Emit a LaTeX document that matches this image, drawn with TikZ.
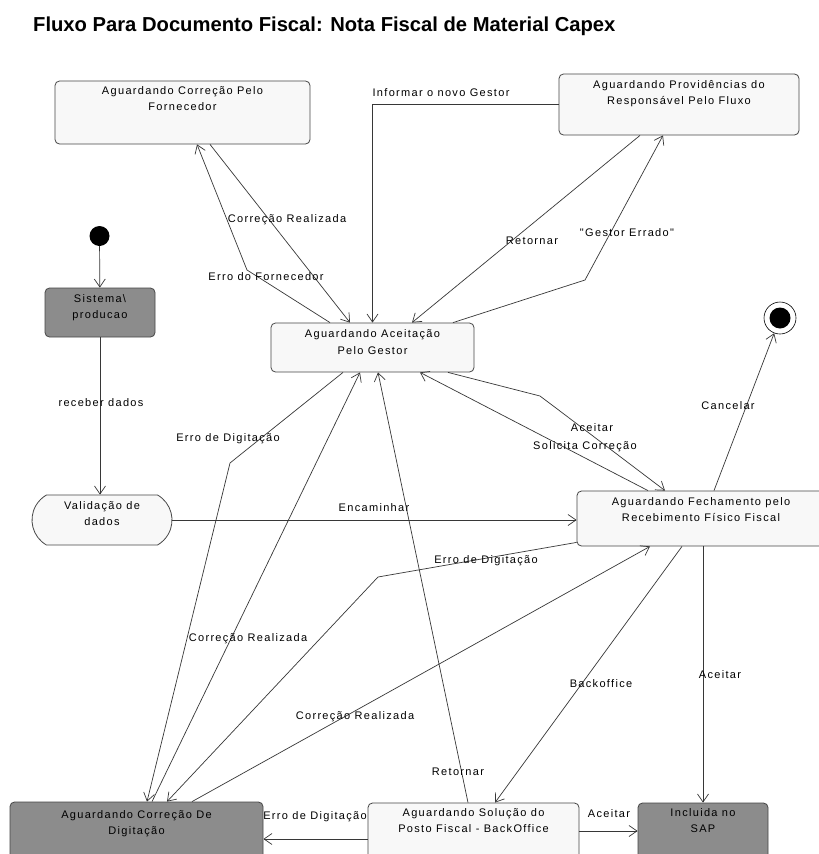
\documentclass[tikz,border=0pt]{standalone}
\usepackage{fontspec}
\setmainfont{Liberation Sans}
\newfontfamily\lblfont[LetterSpace=12]{Liberation Sans}
\usetikzlibrary{shapes.misc,arrows.meta,calc}

\definecolor{edgecol}{RGB}{55,55,55}
\definecolor{boxline}{RGB}{70,70,70}
\definecolor{boxfill}{RGB}{248,248,248}
\definecolor{darkfill}{RGB}{140,140,140}

\begin{document}
\begin{tikzpicture}[x=1pt,y=-1pt,
  every node/.style={font=\lblfont\fontsize{11pt}{16.5pt}\selectfont, inner sep=0pt},
  statebox/.style={rectangle, rounded corners=4.5pt, draw=boxline, fill=boxfill, line width=0.8pt},
  darkbox/.style={statebox, fill=darkfill},
  boxtext/.style={anchor=base, align=center},
  lbl/.style={anchor=center},
  flow/.style={draw=edgecol, line width=0.7pt,
    -{Straight Barb[length=8pt,width=11pt,line width=0.7pt]}}
]
\fill[white] (0,0) rectangle (819,854);
\useasboundingbox (0,0) rectangle (819,854);

% title
\node[anchor=base west, font=\fontsize{20.2pt}{24pt}\selectfont\bfseries] (title) at (33,31)
  {Fluxo Para Documento Fiscal: Nota Fiscal de Material Capex};

% states (the text anchor is the baseline of the second line)
\node[statebox, minimum width=255pt, minimum height=63pt] (forn) at (182.5,112.5) {};
\node[boxtext] (fornT) at ([yshift=-30pt]forn.north) {Aguardando Correção Pelo\\Fornecedor};

\node[statebox, minimum width=240pt, minimum height=61pt] (resp) at (679,104.5) {};
\node[boxtext] (respT) at ([yshift=-31pt]resp.north) {Aguardando Providências do\\Responsável Pelo Fluxo};

\node[circle, fill=black, minimum size=20pt] (init) at (99.5,236) {};

\node[darkbox, minimum width=110pt, minimum height=49pt] (sis) at (100,312.5) {};
\node[boxtext] (sisT) at ([yshift=-31pt]sis.north) {Sistema\textbackslash\\producao};

\node[rounded rectangle, rounded rectangle arc length=120, draw=boxline, fill=boxfill,
  line width=0.8pt, minimum width=140pt, minimum height=50pt] (val) at (102,520) {};
\node[boxtext] (valT) at ([yshift=-31pt]val.north) {Validação de\\dados};

\node[statebox, minimum width=203pt, minimum height=49pt] (gestor) at (372.5,347.5) {};
\node[boxtext] (gestorT) at ([yshift=-31.5pt]gestor.north) {Aguardando Aceitação\\Pelo Gestor};

\node[circle, draw=black, line width=0.6pt, minimum size=32pt] (final) at (780,318) {};
\node[circle, fill=black, minimum size=21pt] (finalIn) at (final) {};

\node[statebox, minimum width=248pt, minimum height=55pt] (fech) at (701,518.5) {};
\node[boxtext] (fechT) at ([yshift=-31pt]fech.north) {Aguardando Fechamento pelo\\Recebimento Físico Fiscal};

\node[darkbox, minimum width=253pt, minimum height=58pt] (digit) at (136.5,831) {};
\node[boxtext] (digitT) at ([yshift=-33pt]digit.north) {Aguardando Correção De\\Digitação};

\node[statebox, minimum width=211pt, minimum height=56pt] (sol) at (473.5,831) {};
\node[boxtext] (solT) at ([yshift=-30pt]sol.north) {Aguardando Solução do\\Posto Fiscal - BackOffice};

\node[darkbox, minimum width=130pt, minimum height=56pt] (sap) at (703,831) {};
\node[boxtext] (sapT) at ([yshift=-30pt]sap.north) {Incluida no\\SAP};

% bend points
\coordinate (bFor) at (247,270);
\coordinate (bGE) at (585,280);
\coordinate (bAc1) at (540,396);
\coordinate (bAc2) at (552,405);
\coordinate (bED1) at (230,463);
\coordinate (bED2) at (378,577);
\coordinate (bCR) at (389,692);

% transitions
\draw[flow] (init) -- (sis);
\draw[flow] (sis.south) -- (sis.south |- val.north);
\draw[flow] (val.east) -- (val.east -| fech.west);
\draw[flow] ([xshift=27.5pt]forn.south) -- ([xshift=-22.5pt]gestor.north);
\draw[flow] ([xshift=-42.5pt]gestor.north) -- (bFor) -- ([xshift=14.5pt]forn.south);
\draw[flow] (resp.west) -| (gestor.north);
\draw[flow] ([xshift=-39pt]resp.south) -- ([xshift=39.5pt]gestor.north);
\draw[flow] ([xshift=80.5pt]gestor.north) -- (bGE) -- ([xshift=-16pt]resp.south);
\draw[flow] ([xshift=75.5pt]gestor.south) -- (bAc1) -- (bAc2) -- ([xshift=-36pt]fech.north);
\draw[flow] ([xshift=-53pt]fech.north) -- ([xshift=47.5pt]gestor.south);
\draw[flow] ([xshift=13pt]fech.north) -- (final);
\draw[flow] ([xshift=-29.5pt]gestor.south) -- (bED1) -- ([xshift=10.5pt]digit.north);
\draw[flow] ([xshift=15.5pt]digit.north) -- ([xshift=-12.5pt]gestor.south);
\draw[flow] ([yshift=4pt]fech.south west) -- (bED2) -- ([xshift=30.5pt]digit.north);
\draw[flow] ([xshift=55.5pt]digit.north) -- (bCR) -- ([xshift=-51pt]fech.south);
\draw[flow] ([xshift=-5.5pt]sol.north) -- ([xshift=5.5pt]gestor.south);
\draw[flow] ([xshift=-19pt]fech.south) -- ([xshift=21.5pt]sol.north);
\draw[flow] (fech.south -| sap.north) -- (sap.north);
\draw[flow] ([yshift=-8pt]sol.west) -- ([yshift=-8pt]sol.west -| digit.east);
\draw[flow] (sol.east) -- (sap.west);

% transition labels
\node[lbl] (lCR1) at (287,220) {Correção Realizada};
\node[lbl] (lEF) at (266,277) {Erro do Fornecedor};
\node[lbl] (lING) at (441,93) {Informar o novo Gestor};
\node[lbl] (lRet1) at (532,241) {Retornar};
\node[lbl] (lGE) at (627,233) {"Gestor Errado"};
\node[lbl] (lRD) at (101,403) {receber dados};
\node[lbl] (lED1) at (228,439) {Erro de Digitação};
\node[lbl] (lAc1) at (592,428) {Aceitar};
\node[lbl] (lSC) at (585,447) {Solicita Correção};
\node[lbl] (lCan) at (728,406) {Cancelar};
\node[lbl] (lEnc) at (374,508) {Encaminhar};
\node[lbl] (lED2) at (486,561) {Erro de Digitação};
\node[lbl] (lCR2) at (248,639) {Correção Realizada};
\node[lbl] (lCR3) at (355,717) {Correção Realizada};
\node[lbl] (lBO) at (601,684) {Backoffice};
\node[lbl] (lAc2) at (720,675) {Aceitar};
\node[lbl] (lRet2) at (458,772) {Retornar};
\node[lbl] (lED3) at (315,817) {Erro de Digitação};
\node[lbl] (lAc3) at (609,814) {Aceitar};
\end{tikzpicture}
\end{document}
